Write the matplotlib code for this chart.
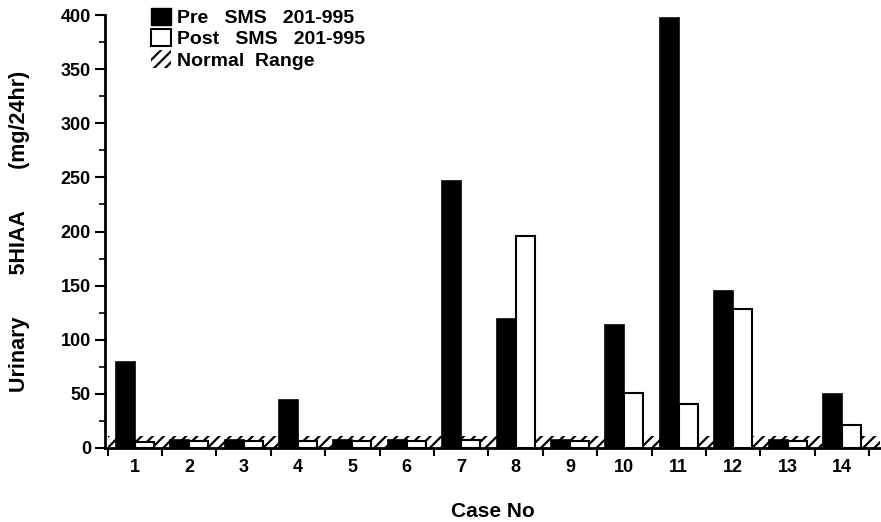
import matplotlib
matplotlib.use("Agg")
import matplotlib.pyplot as plt
from matplotlib.patches import Patch, Rectangle
from matplotlib.ticker import MultipleLocator, FixedLocator
import numpy as np

plt.rcParams['font.family'] = ['Liberation Sans', 'DejaVu Sans']
plt.rcParams['font.weight'] = 'bold'
plt.rcParams['hatch.linewidth'] = 1.6

cases = [1, 2, 3, 4, 5, 6, 7, 8, 9, 10, 11, 12, 13, 14]
pre_sms = [79, 7, 7, 44, 7, 7, 247, 119, 7, 114, 397, 145, 7, 50]
post_sms = [5, 6, 6, 6, 6, 6, 7, 196, 6, 51, 41, 128, 6, 21]
normal_range = (0, 11)

fig = plt.figure(figsize=(8.81, 5.22), dpi=100)
ax = fig.add_axes([0.119, 0.142, 0.880, 0.829])

x = np.array(cases, dtype=float)
w = 0.35

# normal range band under the bars
ax.add_patch(Rectangle((0.5, normal_range[0]), 14.2, normal_range[1] - normal_range[0],
                       facecolor='white', edgecolor='black', hatch='///', lw=0, zorder=1))

ax.bar(x - w / 2, pre_sms, width=w, color='black', edgecolor='black', lw=1.2, zorder=2)
ax.bar(x + w / 2, post_sms, width=w, color='white', edgecolor='black', lw=1.5, zorder=2)

ax.set_xlim(0.45, 14.7)
ax.set_ylim(0, 400)

for s in ['top', 'right']:
    ax.spines[s].set_visible(False)
for s in ['left', 'bottom']:
    ax.spines[s].set_linewidth(2)

ax.yaxis.set_major_locator(MultipleLocator(50))
ax.yaxis.set_minor_locator(MultipleLocator(25))
ax.tick_params(axis='y', which='major', length=7, width=1.5, labelsize=13, pad=3)
ax.tick_params(axis='y', which='minor', length=4, width=1.2)

ax.set_xticks(cases)
ax.set_xticklabels([str(c) for c in cases])
ax.xaxis.set_minor_locator(FixedLocator(np.arange(0.5, 14.6, 1.0)))
ax.tick_params(axis='x', which='major', length=0, labelsize=13, pad=8)
ax.tick_params(axis='x', which='minor', length=6, width=1.5)

ax.set_xlabel('Case No', fontsize=15, fontweight='bold', labelpad=19)
ax.set_ylabel('Urinary       5HIAA       (mg/24hr)', fontsize=15.5, fontweight='bold', labelpad=22)

handles = [
    Patch(facecolor='black', edgecolor='black', label='Pre   SMS   201-995'),
    Patch(facecolor='white', edgecolor='black', lw=1.5, label='Post   SMS   201-995'),
    Patch(facecolor='white', edgecolor='black', hatch='///', lw=0, label='Normal  Range'),
]
ax.legend(handles=handles, loc='upper left', bbox_to_anchor=(0.05, 1.035), frameon=False,
          fontsize=14, handlelength=1.0, handleheight=1.0, handletextpad=0.3,
          labelspacing=0.1, borderaxespad=0)

fig.savefig('out.png', dpi=100)
